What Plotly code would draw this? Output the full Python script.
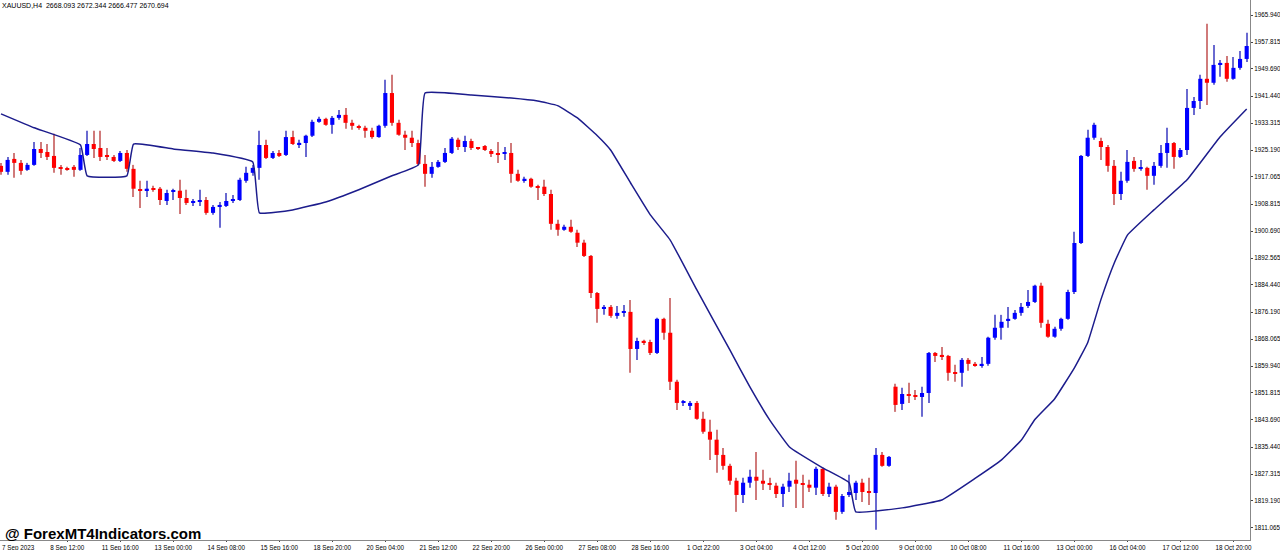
import plotly.graph_objects as go

opens = [1920.4,1918.6,1922.5,1921.3,1919.2,1920.7,1925.5,1924.6,1923.4,1919.8,1919.5,1920.1,1919.2,1923.7,1927.0,1925.8,1923.4,1923.1,1921.9,1924.3,
1919.5,1913.2,1912.9,1913.5,1913.5,1909.8,1912.6,1912.9,1910.7,1909.2,1909.5,1910.1,1906.2,1908.0,1908.3,1909.8,1910.1,1915.9,1918.3,1919.8,
1926.7,1922.8,1924.3,1923.7,1929.1,1927.0,1927.3,1929.5,1933.7,1934.6,1932.8,1934.9,1935.8,1933.4,1932.2,1931.9,1931.0,1929.1,1932.5,1942.4,
1933.4,1929.8,1928.9,1927.3,1921.0,1918.0,1920.1,1921.6,1924.3,1928.3,1926.1,1927.9,1925.8,1926.4,1924.9,1924.0,1924.0,1924.3,1918.0,1915.9,
1916.5,1914.1,1914.1,1911.9,1902.9,1901.1,1902.0,1900.2,1897.2,1893.2,1882.0,1877.2,1877.8,1875.1,1876.0,1876.3,1865.1,1867.5,1867.2,1863.9,
1874.2,1870.0,1855.2,1848.8,1847.9,1848.8,1844.0,1840.1,1837.7,1833.1,1829.8,1825.3,1821.0,1824.7,1826.5,1825.3,1824.4,1823.8,1821.3,1823.5,
1825.6,1824.4,1824.1,1823.2,1828.9,1821.3,1823.5,1815.9,1821.0,1821.6,1824.7,1821.9,1821.6,1833.1,1829.8,1853.7,1848.5,1851.5,1851.2,1850.6,
1851.8,1863.9,1863.3,1863.0,1857.9,1857.9,1861.8,1860.6,1860.0,1860.6,1868.5,1871.5,1873.6,1874.2,1876.0,1878.1,1879.3,1884.2,1872.7,1868.8,
1871.2,1874.2,1882.3,1897.1,1923.4,1928.9,1927.9,1926.1,1920.4,1911.9,1915.9,1921.9,1919.5,1919.8,1917.4,1920.4,1924.3,1927.3,1923.1,1925.2,
1937.9,1940.0,1946.7,1945.5,1950.9,1951.5,1946.7,1950.0,1952.7]
highs = [1921.3,1923.1,1924.3,1922.2,1921.3,1927.6,1927.6,1927.0,1930.1,1920.7,1920.1,1920.7,1925.8,1931.0,1931.0,1931.0,1925.8,1923.7,1924.9,1925.2,
1920.7,1915.9,1915.9,1914.4,1914.0,1913.2,1913.5,1916.2,1913.2,1910.4,1913.2,1911.0,1908.6,1909.5,1912.2,1911.6,1916.8,1920.1,1920.7,1931.0,
1928.3,1924.9,1925.2,1931.0,1931.0,1928.3,1929.8,1934.3,1935.2,1934.9,1935.5,1937.3,1937.9,1934.3,1932.8,1932.5,1931.9,1932.8,1946.4,1947.9,
1934.3,1931.0,1931.0,1928.3,1923.7,1921.6,1922.2,1925.8,1929.1,1928.9,1929.5,1928.6,1926.1,1926.7,1925.5,1927.6,1926.1,1927.3,1919.2,1917.1,
1916.8,1914.7,1916.2,1913.2,1904.1,1902.6,1904.1,1901.1,1898.1,1893.5,1882.3,1878.4,1878.4,1878.1,1878.4,1879.9,1868.5,1867.9,1867.9,1874.5,
1874.5,1880.5,1855.8,1849.7,1849.4,1849.4,1846.1,1843.7,1840.7,1835.2,1830.4,1826.2,1826.2,1828.6,1834.0,1828.6,1826.2,1824.7,1824.4,1827.7,
1831.3,1827.1,1825.6,1829.5,1829.2,1824.7,1824.1,1821.3,1827.1,1825.3,1825.9,1826.2,1835.2,1834.0,1832.8,1854.6,1853.4,1854.9,1852.7,1853.7,
1864.2,1864.2,1865.7,1863.3,1860.3,1862.4,1862.4,1861.2,1862.7,1868.8,1875.4,1875.4,1877.8,1876.9,1879.0,1882.9,1884.5,1885.1,1873.9,1871.8,
1874.5,1883.0,1900.5,1923.7,1931.3,1933.4,1928.9,1926.7,1922.2,1918.6,1925.2,1923.1,1922.2,1920.1,1921.6,1926.7,1931.9,1927.6,1925.8,1943.6,
1941.2,1947.9,1963.3,1956.9,1952.4,1953.6,1953.3,1955.1,1960.6]
lows = [1917.7,1917.7,1916.8,1917.7,1918.9,1920.4,1922.8,1922.2,1918.3,1917.7,1918.9,1917.1,1918.9,1923.4,1922.8,1921.9,1922.2,1921.6,1921.6,1918.6,
1911.0,1907.7,1911.0,1912.6,1908.6,1908.6,1910.1,1905.9,1908.6,1908.3,1908.3,1905.6,1905.6,1901.7,1908.0,1909.2,1909.8,1915.3,1917.4,1916.2,
1922.5,1922.5,1923.1,1923.4,1926.7,1925.8,1923.1,1929.1,1933.4,1932.5,1930.1,1934.3,1931.6,1931.3,1931.3,1928.9,1928.6,1928.9,1931.9,1932.5,
1929.5,1925.2,1926.1,1920.7,1914.1,1916.8,1919.8,1921.3,1924.0,1925.2,1924.6,1925.2,1925.2,1924.9,1923.1,1921.3,1922.2,1915.3,1915.6,1915.3,
1913.8,1910.1,1911.3,1901.1,1899.3,1900.8,1900.2,1895.9,1892.9,1880.5,1873.0,1875.4,1874.5,1874.2,1874.8,1857.9,1861.8,1866.3,1863.3,1863.6,
1867.9,1852.7,1846.7,1847.9,1846.7,1843.7,1839.5,1831.6,1827.7,1828.6,1824.1,1815.9,1818.6,1823.2,1819.5,1822.5,1822.5,1820.1,1817.4,1821.9,
1817.1,1817.1,1821.9,1821.0,1820.7,1820.4,1813.5,1815.3,1820.4,1819.5,1818.9,1818.0,1810.5,1829.5,1829.5,1846.1,1846.7,1848.8,1849.7,1844.6,
1848.8,1861.2,1861.8,1855.5,1855.2,1853.7,1858.5,1859.7,1859.4,1860.0,1867.9,1867.9,1871.5,1873.9,1875.1,1877.5,1879.0,1871.5,1868.5,1868.5,
1870.6,1873.9,1881.7,1896.8,1923.1,1928.3,1922.2,1918.6,1908.6,1910.1,1915.3,1918.6,1918.9,1913.2,1914.7,1919.8,1919.8,1919.5,1922.8,1923.7,
1935.8,1937.6,1938.8,1944.9,1947.3,1945.8,1946.4,1949.4,1951.8]
closes = [1918.6,1922.2,1921.3,1918.9,1920.7,1925.5,1924.3,1923.1,1919.8,1919.5,1919.2,1919.2,1923.7,1927.0,1925.5,1923.1,1923.1,1921.9,1924.3,1919.5,
1913.5,1912.9,1913.5,1913.2,1910.1,1912.2,1912.9,1910.7,1909.2,1909.8,1910.1,1906.2,1908.0,1908.6,1909.8,1910.4,1916.2,1918.3,1919.8,1926.7,
1922.8,1924.3,1923.4,1929.1,1927.0,1927.3,1929.5,1933.7,1934.6,1932.8,1934.9,1935.8,1933.4,1932.5,1931.9,1931.0,1929.1,1932.5,1942.4,1933.4,
1929.8,1928.9,1927.3,1921.0,1918.0,1920.1,1921.6,1924.3,1928.6,1926.1,1927.9,1925.8,1925.5,1925.2,1924.0,1923.9,1924.3,1918.0,1915.9,1916.5,
1914.1,1913.9,1911.9,1902.9,1901.1,1902.0,1900.5,1897.2,1893.2,1882.0,1877.2,1877.8,1875.1,1876.0,1876.3,1865.1,1867.5,1867.2,1863.9,1874.2,
1870.0,1855.2,1848.8,1849.1,1848.8,1844.0,1840.1,1837.7,1833.1,1829.8,1825.3,1821.0,1824.7,1826.5,1825.3,1824.4,1824.1,1821.3,1823.5,1825.3,
1824.4,1824.1,1823.2,1828.9,1821.3,1823.5,1815.9,1820.7,1821.9,1824.7,1821.9,1821.8,1833.1,1829.8,1832.5,1848.2,1851.5,1850.9,1850.6,1851.8,
1863.9,1863.0,1862.7,1857.9,1857.6,1861.8,1860.6,1860.0,1860.6,1868.5,1871.5,1873.3,1874.2,1876.0,1877.8,1879.3,1884.2,1873.0,1868.8,1871.2,
1874.2,1882.3,1897.1,1923.4,1928.9,1932.8,1926.1,1920.4,1911.9,1915.9,1921.6,1919.5,1919.8,1917.4,1920.4,1924.3,1927.3,1923.1,1925.2,1937.9,
1940.0,1946.7,1945.5,1950.9,1951.5,1946.7,1950.0,1952.7,1956.6]

line_idx = [0,5,12,13,19,20,26,32,38,39,44,49,54,59,63,64,71,77,81,84,87,90,92,95,98,101,105,110,113,116,119,124,128,129,136,142,147,151,154,156,159,162,164,166,168,170,174,179,184,188]
line_val = [1936.1,1931.9,1926.7,1917.4,1917.4,1927.0,1925.5,1924.3,1921.6,1906.2,1907.1,1909.5,1913.2,1917.4,1920.7,1942.4,1941.8,1940.9,1940.0,1938.6,1934.9,
1929.5,1925.2,1915.3,1905.6,1898.0,1883.0,1864.8,1853.7,1843.7,1835.5,1829.2,1824.7,1815.9,1817.1,1819.5,1826.0,1831.6,1837.6,1843.7,1850.0,1859.4,1867.0,1880.0,1891.0,1899.5,1907.1,1916.2,1929.2,1937.6]

x_labels = ["7 Sep 2023","8 Sep 12:00","11 Sep 16:00","13 Sep 00:00","14 Sep 08:00","15 Sep 16:00","18 Sep 20:00","20 Sep 04:00",
"21 Sep 12:00","22 Sep 20:00","26 Sep 00:00","27 Sep 08:00","28 Sep 16:00","1 Oct 22:00","3 Oct 04:00","4 Oct 12:00","5 Oct 20:00",
"9 Oct 00:00","10 Oct 08:00","11 Oct 16:00","13 Oct 00:00","16 Oct 04:00","17 Oct 12:00","18 Oct 20:00"]
x_label_pos = [2 + 8*k for k in range(len(x_labels))]
y_ticks = [1965.940,1957.815,1949.690,1941.440,1933.315,1925.190,1917.065,1908.815,1900.690,1892.565,1884.440,1876.190,
1868.065,1859.940,1851.815,1843.690,1835.440,1827.315,1819.190,1811.065]

idx = list(range(len(opens)))
up = [c >= o for o, c in zip(opens, closes)]
cols = ["#0000ff" if u else "#ff0000" for u in up]
wick_cols = ["#6a6ad0" if u else "#d07a7a" for u in up]
body_base = [min(o, c) for o, c in zip(opens, closes)]
body_h = [max(abs(c - o), 0.35) for o, c in zip(opens, closes)]

fig = go.Figure()
fig.add_trace(go.Bar(x=idx, base=lows, y=[h - l for h, l in zip(highs, lows)], width=0.16,
    marker=dict(color=wick_cols, line=dict(width=0)), showlegend=False, hoverinfo="skip"))
fig.add_trace(go.Bar(x=idx, base=body_base, y=body_h, width=0.62,
    marker=dict(color=cols, line=dict(width=0)), showlegend=False, hoverinfo="skip"))
fig.add_trace(go.Scatter(x=line_idx, y=line_val, mode="lines",
    line=dict(color="#1c1c8c", width=1.5, shape="spline", smoothing=0.3), showlegend=False, hoverinfo="skip"))

tickfont = dict(size=6.3, family="Liberation Sans", color="#000")
fig.update_layout(
    width=1280, height=550, margin=dict(l=0, r=30, t=0, b=10),
    paper_bgcolor="white", plot_bgcolor="white", barmode="overlay",
    font=dict(family="Liberation Sans", size=7, color="#000"),
    xaxis=dict(range=[-0.15, 188.5], showgrid=False, zeroline=False, automargin=False,
               tickvals=x_label_pos[1:], ticktext=x_labels[1:], tickfont=tickfont, ticks="outside", ticklen=1,
               showline=True, linecolor="#888"),
    yaxis=dict(range=[1807.4, 1970.5], side="right", showgrid=False, zeroline=False, automargin=False,
               tickvals=y_ticks, ticktext=[f"{v:.3f}" for v in y_ticks], tickfont=tickfont,
               ticks="outside", ticklen=2, showline=True, linecolor="#888"),
    annotations=[
        dict(text="XAUUSD,H4  2668.093 2672.344 2666.477 2670.694", xref="paper", yref="paper", x=0.0, y=1.0,
             xanchor="left", yanchor="top", showarrow=False, font=dict(size=7, color="#000")),
        dict(text=x_labels[0], xref="paper", yref="paper", x=0.0, y=0.0, yshift=-2,
             xanchor="left", yanchor="top", showarrow=False, font=tickfont),
        dict(text="<b>@ ForexMT4Indicators.com</b>", xref="paper", yref="paper", x=0.002, y=0.0, yshift=-4,
             xanchor="left", yanchor="bottom", showarrow=False, font=dict(size=15, color="#000", family="Liberation Sans")),
    ],
)
fig.write_html("out.html", config={"displayModeBar": False},
               post_script="document.body.style.margin='0';document.body.style.overflow='hidden';")
